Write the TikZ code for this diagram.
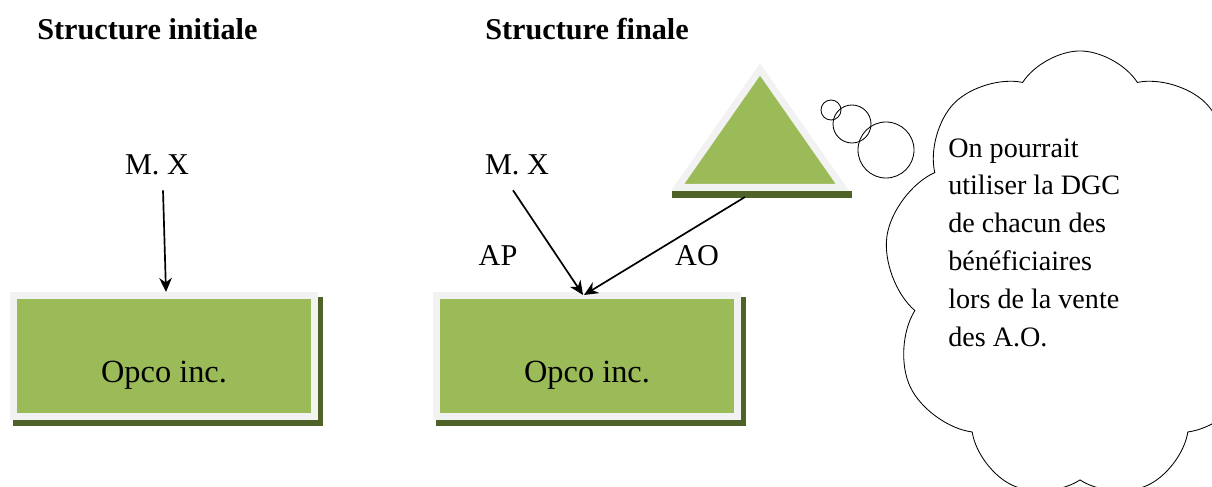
\documentclass[tikz,border=0pt]{standalone}
\usepackage{fontspec}
\setmainfont{Liberation Serif}
\usetikzlibrary{arrows.meta, shapes.geometric, shapes.symbols, calc, backgrounds}
\definecolor{boxgreen}{HTML}{9BBB59}
\definecolor{framegray}{HTML}{F2F2F2}
\definecolor{shadowgreen}{HTML}{4F6228}

\begin{document}
\begin{tikzpicture}[
    x=0.025cm, y=0.025cm,
    >=Stealth,
    orgbox/.style={draw=framegray, fill=boxgreen, line width=0.175cm, minimum width=7.525cm, minimum height=3.025cm, inner sep=0pt},
    peak/.style={isosceles triangle, isosceles triangle stretches, shape border rotate=90, draw=framegray, fill=boxgreen, line width=0.175cm, minimum width=4.125cm, minimum height=2.95cm, inner sep=0pt},
    title/.style={font=\bfseries\fontsize{21.5}{26}\selectfont, anchor=west, inner sep=0pt},
    person/.style={font=\fontsize{21.5}{26}\selectfont, minimum height=1.25cm, inner sep=0pt},
    tag/.style={font=\fontsize{21.5}{26}\selectfont, inner sep=0pt},
    boxtext/.style={font=\fontsize{23}{28}\selectfont, inner sep=0pt},
    bubble/.style={draw, circle, line width=0.6pt, inner sep=0pt},
    arrow/.style={-{Stealth[length=10pt, width=9pt]}, line width=1.2pt},
]
\useasboundingbox (0,0) rectangle (1212,487);
\clip (0,0) rectangle (1212,487);

% Titles
\node[title] (titleA) at (37,458) {Structure initiale};
\node[title] (titleB) at (485,458) {Structure finale};

% Boxes
\node[orgbox] (opcoA) at (164,131) {};
\node[orgbox] (opcoB) at (587,131) {};
\node[boxtext] (opcoAtxt) at ($(opcoA.center)+(0,-19)$) {Opco inc.};
\node[boxtext] (opcoBtxt) at ($(opcoB.center)+(0,-19)$) {Opco inc.};

% Triangle
\node[peak, anchor=south] (tri) at (760,296) {};

% Shadows
\begin{scope}[on background layer]
\fill[shadowgreen] ($(opcoA.south west)+(3,-6)$) rectangle ($(opcoA.north east)+(5,-5)$);
\fill[shadowgreen] ($(opcoB.south west)+(3,-6)$) rectangle ($(opcoB.north east)+(5,-5)$);
\fill[shadowgreen] ($(tri.south)+(-88,-7)$) rectangle ($(tri.south)+(92,0)$);
\end{scope}

% Shareholders
\node[person] (mxA) at (157,322) {M. X};
\node[person] (mxB) at (517,322) {M. X};
\node[tag] (ap) at (498,231) {AP};
\node[tag] (ao) at (697,231) {AO};

% Arrows
\draw[arrow] ($(mxA.south)+(6,0)$) -- ($(opcoA.north)+(2,0)$);
\draw[arrow] ($(mxB.south)+(-4,0)$) -- ($(opcoB.north)+(-4,-3)$);
\draw[arrow] ($(tri.south)+(-15,-6)$) -- ($(opcoB.north)+(-3,-3)$);

% Thought bubbles
\node[bubble, minimum size=0.5cm] (dotS) at (831,377) {};
\node[bubble, minimum size=0.95cm] (dotM) at (852,363) {};
\node[bubble, minimum size=1.4cm] (dotL) at (886,337) {};

% Cloud
\node[cloud, draw, cloud puffs=9, cloud puff arc=115, aspect=0.8, minimum width=9.8cm, minimum height=11.2cm, line width=0.6pt] (cloud) at (1080,212) {};
\node[font=\fontsize{20}{26.9}\selectfont, align=left, anchor=west, inner sep=0pt] (note) at (948,244.5) {On pourrait\\utiliser la DGC\\de chacun des\\bénéficiaires\\lors de la vente\\des A.O.};

\end{tikzpicture}
\end{document}
